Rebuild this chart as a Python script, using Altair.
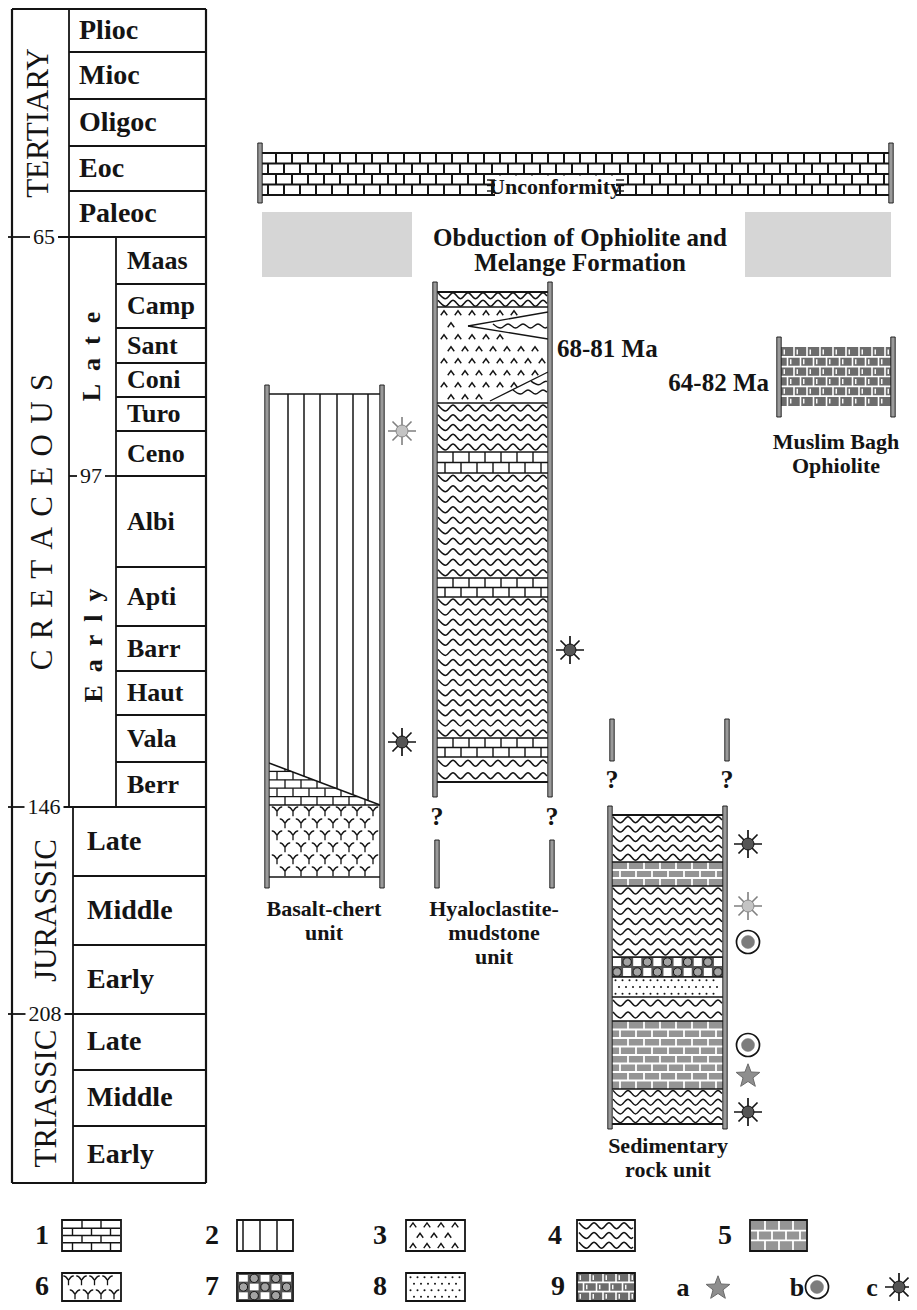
import math
import altair as alt
import pandas as pd

# ---------------- values (picture rows, top = 0) ----------------
TERT_EPOCHS = ["Plioc", "Mioc", "Oligoc", "Eoc", "Paleoc"]
TERT_BOUNDS = [9, 52, 99, 146, 191, 237]
CRET_STAGES = ["Maas", "Camp", "Sant", "Coni", "Turo", "Ceno",
               "Albi", "Apti", "Barr", "Haut", "Vala", "Berr"]
CRET_BOUNDS = [237, 284, 328, 363, 397, 431, 476, 567, 626, 671, 715, 762, 807]
JT_STAGES = ["Late", "Middle", "Early", "Late", "Middle", "Early"]
JT_BOUNDS = [807, 876, 945, 1014, 1070, 1126, 1183]
ERAS = ["TERTIARY", "CRETACEOUS", "JURASSIC", "TRIASSIC"]
ERA_BOUNDS = [9, 237, 807, 1014, 1183]
SUBS = ["Late", "Early"]
SUB_BOUNDS = [237, 476, 807]
AGE_LABELS = ["65", "97", "146", "208"]
AGE_LEVELS = [237, 476, 807, 1014]

HYALO_LAYERS = [("4", 292, 307), ("3", 307, 403), ("4", 403, 452), ("1", 452, 473),
                ("4", 473, 578), ("1", 578, 597), ("4", 597, 738), ("1", 738, 757),
                ("4", 757, 782)]
SED_LAYERS = [("4", 815, 862), ("5", 862, 886), ("4", 886, 957), ("7", 957, 977),
              ("8", 977, 997), ("4", 997, 1021), ("5", 1021, 1089), ("4", 1089, 1124)]
BASALT_TOP = 394
BASALT_WEDGE = (763, 805)
BASALT_BASE = (805, 877)
OPHIOLITE = (347, 406)

FOSSILS = {"basalt": [("c2", 431), ("c", 742)],
           "hyalo": [("c", 650)],
           "sed": [("c", 844), ("c2", 906), ("b", 942), ("b", 1045), ("a", 1075), ("c", 1112)]}

UNIT_NAMES = {"basalt": ["Basalt-chert", "unit"],
              "hyalo": ["Hyaloclastite-", "mudstone", "unit"],
              "sed": ["Sedimentary", "rock unit"],
              "oph": ["Muslim Bagh", "Ophiolite"]}
AGE_TEXTS = ["68-81 Ma", "64-82 Ma"]
TOP_TEXTS = ["Unconformity", "Obduction of Ophiolite and", "Melange Formation"]
LEGEND_ROW1 = ["1", "2", "3", "4", "5"]
LEGEND_ROW2 = ["6", "7", "8", "9"]
FOSSIL_KEYS = ["a", "b", "c"]

# ---------------- layout ----------------
W, H, OFF = 901, 1294, 8
TS_L, TS_R = 12, 206
TS_ERA_R, TS_ERA_R_J, TS_SUB_R = 69, 73, 116
COL_X = {"basalt": (267, 382), "hyalo": (435, 550), "sed": (610, 725), "oph": (779, 893)}
WALLS = {"basalt": (385, 888), "hyalo": (282, 797), "sed": (806, 1129), "oph": (337, 417)}
STUBS = {"hyalo": (840, 888), "sed": (719, 761)}
QMARK_Y = {"hyalo": 817, "sed": 780}
FOSSIL_X = {"basalt": 402, "hyalo": 570, "sed": 748}
NAME_Y = {"basalt": [909, 933], "hyalo": [909, 933, 957], "sed": [1146, 1170], "oph": [442, 466]}
NAME_X = {"basalt": 324, "hyalo": 494, "sed": 668, "oph": 836}
NAME_SIZE = 22
CHERT_X = [288, 304, 320, 337, 353, 368]
AGE_X = [44, 91, 44, 45]
LEG1_Y, LEG2_Y = (1220, 1251), (1273, 1301)
LEG1_X = [(42, 62, 121), (212, 237, 293), (380, 406, 465), (555, 577, 635), (725, 750, 807)]
LEG2_X = [(42, 62, 121), (212, 237, 293), (380, 406, 465), (558, 577, 635)]
FOS_LEG = [(683, 718), (797, 817), (872, 899)]

INK = "#141414"
RECTS, WAVES, RULES, PAT, TOPRECTS, FOS, TXT = [], [], [], [], [], [], []
_gid = [0]


def rect(x0, y0, x1, y1, fill, stroke="transparent", sw=0.0, top=False):
    (TOPRECTS if top else RECTS).append(dict(x=x0, x2=x1, y=y0, y2=y1, fill=fill, stroke=stroke, sw=sw))


def seg(x0, y0, x1, y1, color=INK, sw=1.3):
    RULES.append(dict(x=x0, y=y0, x2=x1, y2=y1, color=color, sw=sw))


def pat(x, y, kind):
    PAT.append(dict(x=x, y=y, kind=kind))


def txt(x, y, text, size, style="bc", angle=0):
    TXT.append(dict(x=x, y=y, text=text, size=size, style=style, angle=angle))


def wave_row(x0, x1, yc, period=15.0, amp=3.0):
    g = _gid[0]
    _gid[0] += 1
    k, x = 0, x0 + 1
    last = None
    while x <= x1 - 1:
        y = yc + (amp if k % 2 else -amp)
        WAVES.append(dict(x=x, y=y, g=g, o=k))
        last = (x, y)
        k += 1
        x += period / 2
    if last and last[0] < x1 - 1.5:
        nxt = yc + (amp if k % 2 else -amp)
        f = (x1 - 1 - last[0]) / (period / 2)
        WAVES.append(dict(x=x1 - 1, y=last[1] + (nxt - last[1]) * f, g=g, o=k))


def waves(x0, x1, y0, y1, gap=10.0, period=15.0, amp=3.0):
    n = max(1, round((y1 - y0) / gap))
    g = (y1 - y0) / n
    for i in range(n):
        wave_row(x0, x1, y0 + g * (i + 0.5), period, amp)


def bricks(x0, x1, y0, y1, rows, bw, color=INK, sw=1.4, edges=True):
    rh = (y1 - y0) / rows
    for i in (range(rows + 1) if edges else range(1, rows)):
        seg(x0, y0 + i * rh, x1, y0 + i * rh, color, sw)
    for i in range(rows):
        ya, yb = y0 + i * rh, y0 + (i + 1) * rh
        x = x0 + (bw / 2 if i % 2 else bw)
        while x < x1 - 2:
            seg(x, ya, x, yb, color, sw)
            x += bw


def grid_points(x0, x1, y0, y1, dx, dy, kind, skip=None):
    rows = max(1, int((y1 - y0) // dy))
    ry = (y1 - y0) / rows
    for i in range(rows):
        y = y0 + ry * (i + 0.5)
        x = x0 + (dx * 0.5 if i % 2 == 0 else dx)
        while x < x1 - 3:
            if not (skip and skip(x, y)):
                pat(x, y, kind)
            x += dx


def gray_bricks(x0, x1, y0, y1, rows, bw):
    rect(x0, y0, x1, y1, "#959595")
    bricks(x0, x1, y0, y1, rows, bw, color="white", sw=1.8, edges=False)


def conglomerate(x0, x1, y0, y1, cell=10.0):
    rect(x0, y0, x1, y1, "#555555")
    rows = max(1, round((y1 - y0) / cell))
    cols = max(1, round((x1 - x0) / cell))
    ch, cw = (y1 - y0) / rows, (x1 - x0) / cols
    for i in range(rows):
        for j in range(cols):
            cx0, cy0 = x0 + j * cw, y0 + i * ch
            if (i + j) % 2 == 0:
                rect(cx0 + 1, cy0 + 1, cx0 + cw - 1, cy0 + ch - 1, "white")
            else:
                pat(cx0 + cw / 2, cy0 + ch / 2, "pebble")


def weave(x0, x1, y0, y1, rows, bw):
    rect(x0, y0, x1, y1, "#6c6c6c")
    bricks(x0, x1, y0, y1, rows, bw, color="white", sw=1.6, edges=False)
    rh = (y1 - y0) / rows
    for i in range(rows):
        ya = y0 + i * rh
        x = x0 + (bw if i % 2 else bw / 2) - bw / 4
        while x < x1 - 2:
            seg(x, ya + rh * 0.25, x, ya + rh * 0.75, "white", 1.4)
            x += bw


def sand(x0, x1, y0, y1):
    rect(x0, y0, x1, y1, "white")
    grid_points(x0, x1, y0, y1, 7, 6.5, "dot")


def fill_pattern(code, x0, x1, y0, y1, legend=False):
    if code == "1":
        rect(x0, y0, x1, y1, "white")
        bricks(x0, x1, y0, y1, max(2, round((y1 - y0) / (8 if legend else 10))), 19 if legend else 16,
               edges=False)
    elif code == "3":
        rect(x0, y0, x1, y1, "white")
    elif code == "4":
        rect(x0, y0, x1, y1, "white")
        waves(x0, x1, y0, y1)
    elif code == "5":
        gray_bricks(x0, x1, y0, y1, max(2, round((y1 - y0) / 8.5)), 16 if not legend else 14)
    elif code == "7":
        conglomerate(x0, x1, y0, y1)
    elif code == "8":
        sand(x0, x1, y0, y1)


def wall(x, y0, y1):
    rect(x - 2.2, y0, x + 2.2, y1, "#9a9a9a", INK, 0.9, top=True)


def fossil(kind, x, y):
    if kind == "a":
        FOS.append(dict(x=x, y=y, kind="star"))
    elif kind == "b":
        FOS.append(dict(x=x, y=y, kind="ring"))
        FOS.append(dict(x=x, y=y, kind="ringcore"))
    elif kind == "c":
        FOS.append(dict(x=x, y=y, kind="spikes"))
        FOS.append(dict(x=x, y=y, kind="radcore"))
    else:
        FOS.append(dict(x=x, y=y, kind="spikes_g"))
        FOS.append(dict(x=x, y=y, kind="radcore_g"))


# ---------------- time scale ----------------
for y in TERT_BOUNDS[1:-1]:
    seg(TS_ERA_R, y, TS_R, y, sw=1.8)
for y in CRET_BOUNDS[1:-1]:
    seg(TS_SUB_R, y, TS_R, y, sw=1.8)
for y in JT_BOUNDS[1:-1]:
    if y not in AGE_LEVELS:
        seg(TS_ERA_R_J, y, TS_R, y, sw=1.8)
for lab, lev, cx in zip(AGE_LABELS, AGE_LEVELS, AGE_X):
    half = len(lab) * 5.5 + 3
    if lab == "97":
        seg(TS_ERA_R, lev, cx - half, lev, sw=1.8)
        seg(cx + half, lev, TS_SUB_R, lev, sw=1.8)
    else:
        seg(6, lev, cx - half, lev, sw=1.8)
        seg(cx + half, lev, TS_R, lev, sw=1.8)
    txt(cx, lev, lab, 22, "rc")
seg(TS_L, 9, TS_R, 9, sw=2.2)
seg(TS_L, JT_BOUNDS[-1], TS_R, JT_BOUNDS[-1], sw=2.2)
seg(TS_L, 9, TS_L, JT_BOUNDS[-1], sw=2.2)
seg(TS_R, 9, TS_R, JT_BOUNDS[-1], sw=2.2)
seg(TS_ERA_R, 9, TS_ERA_R, ERA_BOUNDS[2], sw=1.8)
seg(TS_ERA_R_J, ERA_BOUNDS[2], TS_ERA_R_J, JT_BOUNDS[-1], sw=1.8)
seg(TS_SUB_R, SUB_BOUNDS[0], TS_SUB_R, SUB_BOUNDS[-1], sw=1.8)

for i, name in enumerate(TERT_EPOCHS):
    txt(79, (TERT_BOUNDS[i] + TERT_BOUNDS[i + 1]) / 2, name, 28, "bl")
for i, name in enumerate(CRET_STAGES):
    txt(127, (CRET_BOUNDS[i] + CRET_BOUNDS[i + 1]) / 2, name, 26, "bl")
for i, name in enumerate(JT_STAGES):
    txt(87, (JT_BOUNDS[i] + JT_BOUNDS[i + 1]) / 2, name, 28, "bl")
ERA_X = [39, 43, 47, 47]
for i, name in enumerate(ERAS):
    label = "\u2004".join(name) if name == "CRETACEOUS" else name
    txt(ERA_X[i], (ERA_BOUNDS[i] + ERA_BOUNDS[i + 1]) / 2, label, 31, "rc", 270)
SUB_X = [92, 94]
for i, name in enumerate(SUBS):
    txt(SUB_X[i], (SUB_BOUNDS[i] + SUB_BOUNDS[i + 1]) / 2 + 4 * i, "\u2002".join(name), 26, "bc", 270)

# ---------------- unconformity band and obduction ----------------
rect(260, 153, 891, 195, "white")
bricks(260, 891, 153, 195, 4, 16, sw=2.0)
rect(495, 175.6, 616, 197, "white", top=True)
for yy in (180, 185.5, 191):
    seg(487, yy, 496, yy, sw=1.4)
    seg(615, yy, 624, yy, sw=1.4)
wall(260, 143, 203)
wall(891, 143, 203)
txt(555, 187, TOP_TEXTS[0], 22, "bc")
rect(262, 212, 412, 277, "#d6d6d6")
rect(745, 212, 891, 277, "#d6d6d6")
txt(580, 238, TOP_TEXTS[1], 25, "bc")
txt(580, 263, TOP_TEXTS[2], 25, "bc")

# ---------------- basalt-chert unit ----------------
bx0, bx1 = COL_X["basalt"][0] + 2, COL_X["basalt"][1] - 2
wa, wb = BASALT_WEDGE
rect(bx0, BASALT_TOP, bx1, BASALT_BASE[1], "white")


def diag(x):
    return wa + (x - bx0) / (bx1 - bx0) * (wb - wa)


for cx in CHERT_X:
    seg(cx, BASALT_TOP, cx, diag(cx), sw=1.5)
rows = 5
rh = (wb - wa) / rows
for i in range(1, rows):
    y = wa + i * rh
    seg(bx0, y, bx0 + (y - wa) / (wb - wa) * (bx1 - bx0), y)
for i in range(rows):
    r0, r1 = wa + i * rh, wa + (i + 1) * rh
    x = bx0 + (8 if i % 2 else 16)
    while x < bx1 - 2:
        t = diag(x)
        if t < r1 - 1:
            seg(x, max(r0, t), x, r1)
        x += 16
seg(bx0, wa, bx1, wb, sw=1.4)
grid_points(bx0, bx1, BASALT_BASE[0], BASALT_BASE[1], 16, 12, "Y")
for y in (BASALT_TOP, BASALT_BASE[0], BASALT_BASE[1]):
    seg(bx0, y, bx1, y, sw=1.7)

# ---------------- hyaloclastite-mudstone unit ----------------
hx0, hx1 = COL_X["hyalo"][0] + 2, COL_X["hyalo"][1] - 2
for code, y0, y1 in HYALO_LAYERS:
    fill_pattern(code, hx0, hx1, y0, y1)


def in_tongue(x, y):
    up = x > 462 and abs(y - 326) < 4 + (x - 468) * 0.17
    low = x > 486 and y > 401 - (x - 490) * 0.5 - 4
    return up or low


grid_points(hx0, hx1, 307, 403, 14, 12, "caret", skip=in_tongue)
seg(468, 326, hx1, 312, sw=1.3)
seg(468, 326, hx1, 339, sw=1.3)
wave_row(492, hx1, 326, amp=2.0)
seg(490, 401, hx1, 372, sw=1.3)
wave_row(512, hx1, 392, amp=2.0)
wave_row(530, hx1, 383, amp=1.8)
for code, y0, y1 in HYALO_LAYERS:
    seg(hx0, y0, hx1, y0, sw=1.4)
seg(hx0, HYALO_LAYERS[0][1], hx1, HYALO_LAYERS[0][1], sw=1.8)
seg(hx0, HYALO_LAYERS[-1][2], hx1, HYALO_LAYERS[-1][2], sw=1.8)

# ---------------- sedimentary rock unit ----------------
sx0, sx1 = COL_X["sed"][0] + 2, COL_X["sed"][1] - 2
for code, y0, y1 in SED_LAYERS:
    fill_pattern(code, sx0, sx1, y0, y1)
for code, y0, y1 in SED_LAYERS:
    seg(sx0, y0, sx1, y0, sw=1.4)
seg(sx0, SED_LAYERS[0][1], sx1, SED_LAYERS[0][1], sw=1.8)
seg(sx0, SED_LAYERS[-1][2], sx1, SED_LAYERS[-1][2], sw=1.8)

# ---------------- Muslim Bagh ophiolite ----------------
ox0, ox1 = COL_X["oph"][0] + 2, COL_X["oph"][1] - 2
weave(ox0, ox1, OPHIOLITE[0], OPHIOLITE[1], 6, 13)
txt(557, 349, AGE_TEXTS[0], 25, "bl")
txt(769, 383, AGE_TEXTS[1], 25, "br")

# ---------------- walls, stubs, question marks, names, fossils ----------------
for key in ("basalt", "hyalo", "sed", "oph"):
    for xw in COL_X[key]:
        wall(xw, *WALLS[key])
    for line, yy in zip(UNIT_NAMES[key], NAME_Y[key]):
        txt(NAME_X[key], yy, line, NAME_SIZE, "bc")
for key in ("hyalo", "sed"):
    for xw in COL_X[key]:
        wall(xw + 2, *STUBS[key])
        txt(xw + 2, QMARK_Y[key], "?", 26, "bc")
for key, lst in FOSSILS.items():
    for kind, yy in lst:
        fossil(kind, FOSSIL_X[key], yy)

# ---------------- legend ----------------
L1y0, L1y1 = LEG1_Y
L2y0, L2y1 = LEG2_Y
for code, (tx, bx0_, bx1_) in zip(LEGEND_ROW1, LEG1_X):
    txt(tx, (L1y0 + L1y1) / 2, code, 28, "bc")
    if code == "2":
        rect(bx0_, L1y0, bx1_, L1y1, "white")
        for vx in (bx0_ + 6, bx0_ + 23, bx0_ + 40):
            seg(vx, L1y0, vx, L1y1, sw=1.5)
    elif code == "3":
        rect(bx0_, L1y0, bx1_, L1y1, "white")
        grid_points(bx0_, bx1_, L1y0, L1y1, 14, 10, "caret")
    else:
        fill_pattern(code, bx0_ + 1, bx1_ - 1, L1y0 + 1, L1y1 - 1, legend=True)
    rect(bx0_, L1y0, bx1_, L1y1, "transparent", INK, 1.8, top=True)
for code, (tx, bx0_, bx1_) in zip(LEGEND_ROW2, LEG2_X):
    txt(tx, (L2y0 + L2y1) / 2, code, 28, "bc")
    if code == "6":
        rect(bx0_, L2y0, bx1_, L2y1, "white")
        grid_points(bx0_, bx1_, L2y0, L2y1, 13, 9.5, "Y")
    elif code == "9":
        weave(bx0_, bx1_, L2y0, L2y1, 3, 13)
    else:
        fill_pattern(code, bx0_ + 1, bx1_ - 1, L2y0 + 1, L2y1 - 1, legend=True)
    rect(bx0_, L2y0, bx1_, L2y1, "transparent", INK, 1.8, top=True)
for key, (tx, fx) in zip(FOSSIL_KEYS, FOS_LEG):
    txt(tx, (L2y0 + L2y1) / 2 + 1, key, 26, "bc")
    fossil(key, fx, (L2y0 + L2y1) / 2)

# ---------------- chart ----------------
XS = alt.Scale(domain=[OFF, OFF + W], nice=False, zero=False)
YS = alt.Scale(domain=[OFF, OFF + H], nice=False, zero=False, reverse=True)


def xy():
    return dict(x=alt.X("x:Q", scale=XS, axis=None), y=alt.Y("y:Q", scale=YS, axis=None))


def rect_layer(rows_):
    return alt.Chart(pd.DataFrame(rows_)).mark_rect().encode(
        x2="x2:Q", y2="y2:Q",
        fill=alt.Fill("fill:N", scale=None),
        stroke=alt.Stroke("stroke:N", scale=None),
        strokeWidth=alt.StrokeWidth("sw:Q", scale=None), **xy())


rule_layer = alt.Chart(pd.DataFrame(RULES)).mark_rule().encode(
    x2="x2:Q", y2="y2:Q",
    color=alt.Color("color:N", scale=None),
    strokeWidth=alt.StrokeWidth("sw:Q", scale=None), **xy())

wave_layer = alt.Chart(pd.DataFrame(WAVES)).mark_line(
    interpolate="monotone", color=INK, strokeWidth=1.5).encode(
    detail="g:N", order="o:Q", **xy())


def star_path(n=5, r_in=0.42):
    pts = []
    for i in range(2 * n):
        r = 1.0 if i % 2 == 0 else r_in
        a = -math.pi / 2 + i * math.pi / n
        pts.append((r * math.cos(a), r * math.sin(a) + 0.1))
    return "M" + "L".join(f"{px:.3f},{py:.3f}" for px, py in pts) + "Z"


CARET = "M-1,0.7L0,-0.7L1,0.7"
YSHAPE = "M0,1L0,0.05M0,0.05C-0.25,-0.35 -0.55,-0.85 -1,-0.75M0,0.05C0.25,-0.35 0.55,-0.85 1,-0.75M-0.35,-0.35L0,0.05L0.35,-0.35"
SPIKES = "M-1,0L1,0M0,-1L0,1M-0.68,-0.68L0.68,0.68M-0.68,0.68L0.68,-0.68"

STYLES = {
    "caret": dict(shape=CARET, filled=False, color=INK, strokeWidth=1.4, size=42),
    "Y": dict(shape=YSHAPE, filled=False, color=INK, strokeWidth=1.3, size=110),
    "dot": dict(shape="circle", filled=True, color=INK, size=4),
    "pebble": dict(shape="circle", filled=True, fill="#a3a3a3", stroke=INK, strokeWidth=1.0, size=70),
    "star": dict(shape=star_path(), filled=True, fill="#8e8e8e", stroke="#6a6a6a", strokeWidth=1.0, size=620),
    "ring": dict(shape="circle", filled=True, fill="white", stroke=INK, strokeWidth=1.7, size=530),
    "ringcore": dict(shape="circle", filled=True, fill="#7c7c7c", stroke="#7c7c7c", strokeWidth=0.5, size=170),
    "spikes": dict(shape=SPIKES, filled=False, color=INK, strokeWidth=1.7, size=784),
    "spikes_g": dict(shape=SPIKES, filled=False, color="#808080", strokeWidth=1.6, size=784),
    "radcore": dict(shape="circle", filled=True, fill="#555555", stroke=INK, strokeWidth=1.0, size=144),
    "radcore_g": dict(shape="circle", filled=True, fill="#c4c4c4", stroke="#8a8a8a", strokeWidth=1.0, size=144),
}


def point_layers(rows_, kinds):
    df = pd.DataFrame(rows_)
    out = []
    for k in kinds:
        sub = df[df["kind"] == k]
        if len(sub):
            out.append(alt.Chart(sub).mark_point(opacity=1, **STYLES[k]).encode(**xy()))
    return out


tdf = pd.DataFrame(TXT)
text_layers = []
for style, weight, align in (("bc", "bold", "center"), ("bl", "bold", "left"),
                             ("br", "bold", "right"), ("rc", "normal", "center")):
    sub = tdf[tdf["style"] == style]
    if len(sub):
        text_layers.append(alt.Chart(sub).mark_text(
            font="Liberation Serif", fontWeight=weight, align=align, baseline="middle", color=INK
        ).encode(text="text:N", size=alt.Size("size:Q", scale=None),
                 angle=alt.Angle("angle:Q", scale=None), **xy()))

layers = [rect_layer(RECTS), wave_layer, rule_layer]
layers += point_layers(PAT, ["caret", "Y", "dot", "pebble"])
layers += [rect_layer(TOPRECTS)]
layers += point_layers(FOS, ["star", "ring", "ringcore", "spikes", "spikes_g", "radcore", "radcore_g"])
layers += text_layers

chart = alt.layer(*layers).properties(
    width=W, height=H, padding=0, background="white",
    autosize=alt.AutoSizeParams(type="none")
).configure_view(strokeWidth=0)

chart.save("out.html", embed_options={"renderer": "svg", "actions": False})
